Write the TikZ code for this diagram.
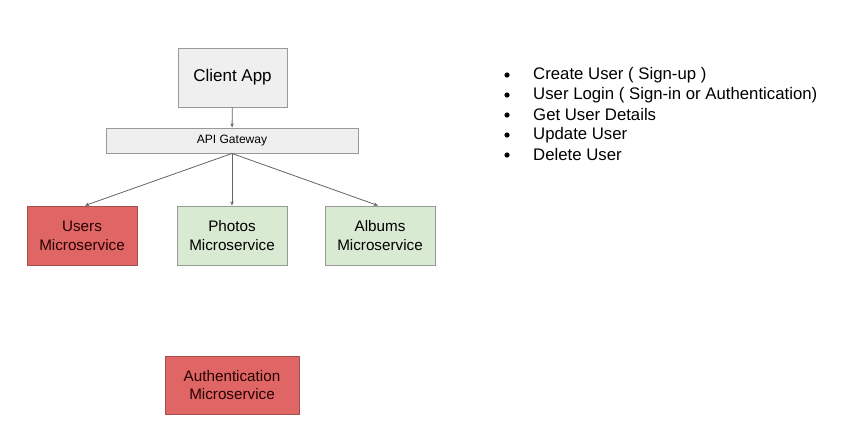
\documentclass[tikz,border=0pt]{standalone}
\usepackage{fontspec}
\setmainfont{Liberation Sans}
\usetikzlibrary{arrows.meta}

\definecolor{boxgray}{HTML}{EFEFEF}
\definecolor{linegray}{HTML}{999999}
\definecolor{arrowgray}{HTML}{666666}
\definecolor{svcred}{HTML}{E06666}
\definecolor{svcredline}{HTML}{A64D4D}
\definecolor{svcgreen}{HTML}{D9EAD3}

\begin{document}
\begin{tikzpicture}[x=0.03cm, y=-0.03cm,
    box/.style={draw=linegray, line width=0.8pt, align=center, inner sep=0pt},
    redbox/.style={box, fill=svcred, draw=svcredline, text=black!85!red},
    greenbox/.style={box, fill=svcgreen},
    link/.style={draw=arrowgray, line width=0.7pt, -{Stealth[length=3.5pt, width=3pt]}}]
            \useasboundingbox (0,0) rectangle (842,440);
            \node[box, fill=boxgray, minimum width=3.27cm, minimum height=1.77cm, font=\fontsize{14.5}{16}\selectfont] (client) at (232.5,77.5) {Client App};
            \node[box, fill=boxgray, minimum width=7.56cm, minimum height=0.75cm, font=\fontsize{10.3}{12}\selectfont] (gateway) at (232,140.5) {API Gateway};
            \node[redbox, minimum width=3.3cm, minimum height=1.77cm, font=\fontsize{13}{16}\selectfont] (users) at (82,235.5) {Users\\Microservice};
            \node[greenbox, minimum width=3.3cm, minimum height=1.77cm, font=\fontsize{13}{16}\selectfont] (photos) at (232,235.5) {Photos\\Microservice};
            \node[greenbox, minimum width=3.3cm, minimum height=1.77cm, font=\fontsize{13}{16}\selectfont] (albums) at (380,235.5) {Albums\\Microservice};
            \node[redbox, minimum width=4.02cm, minimum height=1.74cm, font=\fontsize{13}{16}\selectfont] (auth) at (232,385) {Authentication\\Microservice};
            \draw[link] (client) -- (gateway);
            \draw[link] (gateway.south) -- (users.north -| 85,0);
            \draw[link] (gateway.south) -- (photos.north);
            \draw[link] (gateway.south) -- (albums.north -| 378,0);
            % list of user operations
            \foreach \txt [count=\i] in {Create User ( Sign-up ), User Login ( Sign-in or Authentication), Get User Details, Update User, Delete User}
                \node[anchor=west, inner sep=0pt, font=\fontsize{14.3}{16}\selectfont] (item\i) at (533,{55+20*\i}) {\txt};
            \foreach \i in {1,...,5}
                \fill (item\i.west -| 507,0) circle (2.6);
        \end{tikzpicture}
\end{document}
